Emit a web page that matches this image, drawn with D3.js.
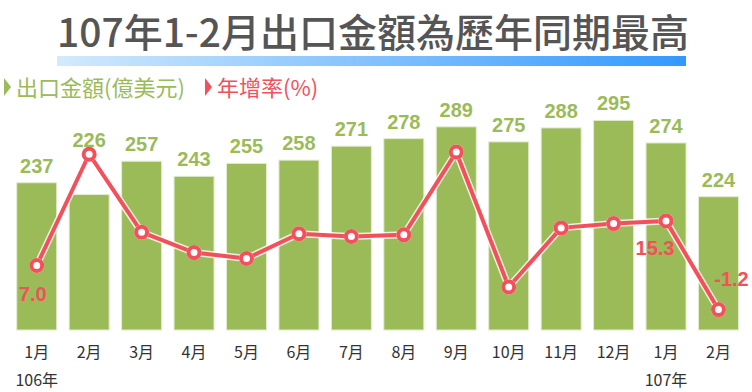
<!DOCTYPE html>
<html><head><meta charset="utf-8">
<script src="https://cdn.jsdelivr.net/npm/d3@7"></script>
<style>body{margin:0;background:#fff}svg{display:block}</style>
</head><body>
<script>
const titleText = "107年1-2月出口金額為歷年同期最高";
const legendLabels = ["出口金額(億美元)", "年增率(%)"];
const months = ["1月","2月","3月","4月","5月","6月","7月","8月","9月","10月","11月","12月","1月","2月"];
const yearLabels = ["106年","","","","","","","","","","","","107年",""];
const exportValues = [237,226,257,243,255,258,271,278,289,275,288,295,274,224];
const growthValues = [7.0,27.7,13.2,9.4,8.3,12.9,12.4,12.7,28.1,3.0,14.0,14.8,15.3,-1.2];
const growthLabels = ["7.0","","","","","","","","","","","","15.3","-1.2"];

const W = 752, H = 392;
const GREEN = "#9bbb59", RED = "#f2505b";
const svg = d3.select("body").append("svg").attr("width", W).attr("height", H);

// title
const defs = svg.append("defs");
const grad = defs.append("linearGradient").attr("id","tg").attr("x1","0").attr("x2","1");
grad.append("stop").attr("offset","0").attr("stop-color","#d2eafc");
grad.append("stop").attr("offset","1").attr("stop-color","#3399ff");
svg.append("text").attr("x", 373).attr("y", 47).attr("text-anchor","middle")
  .attr("font-family","'Noto Sans CJK TC'").attr("font-weight",500).attr("font-size",39)
  .attr("fill","#555").text(titleText);
svg.append("rect").attr("x",57).attr("y",56).attr("width",629).attr("height",10).attr("fill","url(#tg)");

// legend
const leg = [{x:4, c:GREEN, t:legendLabels[0]}, {x:205, c:RED, t:legendLabels[1]}];
leg.forEach(l => {
  svg.append("path").attr("d", `M${l.x},78 L${l.x+7},87 L${l.x},96 Z`).attr("fill", l.c);
  svg.append("text").attr("x", l.x+12).attr("y", 96).attr("font-family","'Noto Sans CJK TC'")
    .attr("font-size",22).attr("fill", l.c).text(l.t);
});

const x = d3.scaleBand().domain(d3.range(months.length)).range([10.5, 744.7])
  .paddingInner(0.237).paddingOuter(0.1185);
const yBar = d3.scaleLinear().domain([100,300]).range([330,115]);
const yLine = d3.scaleLinear().domain([-5,35]).range([330,115]);
const cx = i => x(i) + x.bandwidth()/2;

// bars
svg.append("g").selectAll("rect").data(exportValues).join("rect")
  .attr("x",(d,i)=>x(i)).attr("y",d=>yBar(d)).attr("width",x.bandwidth())
  .attr("height",d=>yBar(100)-yBar(d)).attr("fill",GREEN).attr("stroke","#e3ecd0").attr("stroke-width",1);

// bar labels
svg.append("g").selectAll("text").data(exportValues).join("text")
  .attr("x",(d,i)=>cx(i))
  .attr("y",(d,i)=>{ const pt = yLine(growthValues[i]); const bt = yBar(d);
      return pt < bt ? pt - 7 : bt - 10; })
  .attr("text-anchor","middle").attr("font-family","'Liberation Sans', Arial").attr("font-weight","bold")
  .attr("font-size",20).attr("fill",GREEN).text(d=>d);

// x axis labels
svg.append("g").selectAll("text").data(months).join("text")
  .attr("x",(d,i)=>cx(i)).attr("y",358).attr("text-anchor","middle")
  .attr("font-family","'Noto Sans CJK TC'").attr("font-size",16).attr("fill","#333").text(d=>d);
svg.append("g").selectAll("text").data(yearLabels).join("text")
  .attr("x",(d,i)=>cx(i)).attr("y",386).attr("text-anchor","middle")
  .attr("font-family","'Noto Sans CJK TC'").attr("font-size",16).attr("fill","#333").text(d=>d);

// line
const line = d3.line().x((d,i)=>cx(i)).y(d=>yLine(d));
svg.append("path").datum(growthValues).attr("d",line).attr("fill","none")
  .attr("stroke","#fff").attr("stroke-width",7).attr("stroke-linejoin","round").attr("opacity",0.8);
svg.append("path").datum(growthValues).attr("d",line).attr("fill","none")
  .attr("stroke",RED).attr("stroke-width",4).attr("stroke-linejoin","round");
svg.append("g").selectAll("circle").data(growthValues).join("circle")
  .attr("cx",(d,i)=>cx(i)).attr("cy",d=>yLine(d)).attr("r",7.5).attr("fill","#fff");
svg.append("g").selectAll("circle").data(growthValues).join("circle")
  .attr("cx",(d,i)=>cx(i)).attr("cy",d=>yLine(d)).attr("r",5.5).attr("fill","#fff")
  .attr("stroke",RED).attr("stroke-width",4);

// line labels
const off = {0:[-4,35], 12:[-11,34], 13:[13,-24]};
svg.append("g").selectAll("text").data(growthLabels).join("text")
  .attr("x",(d,i)=>cx(i) + (off[i]?off[i][0]:0))
  .attr("y",(d,i)=>yLine(growthValues[i]) + (off[i]?off[i][1]:0))
  .attr("text-anchor","middle").attr("font-family","'Liberation Sans', Arial").attr("font-weight","bold")
  .attr("font-size",20).attr("fill",RED).text(d=>d);
</script>
</body></html>
